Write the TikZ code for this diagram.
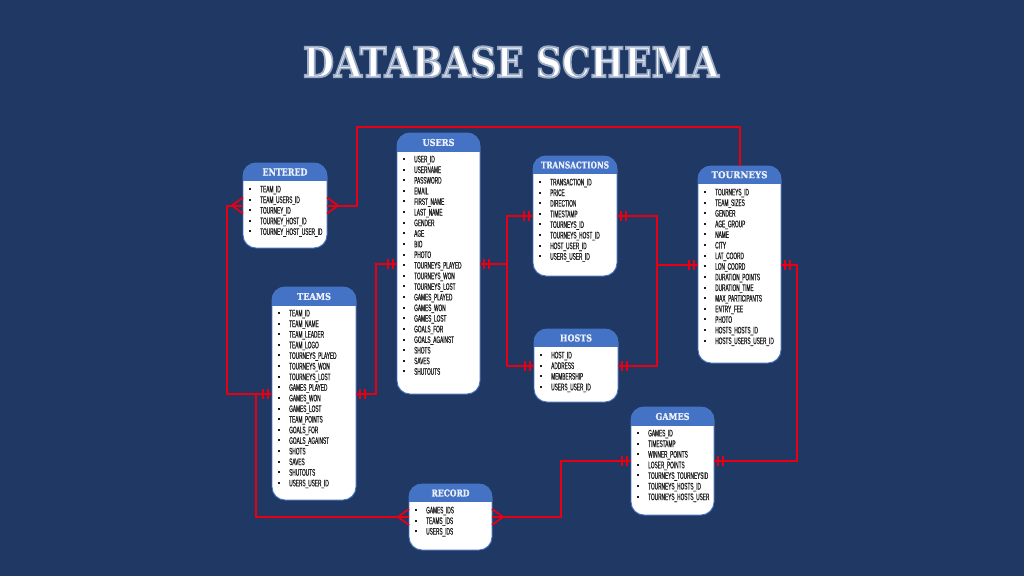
\documentclass[tikz,border=0pt]{standalone}
\usepackage{fontspec}
\usetikzlibrary{decorations.markings}
\newfontfamily\itmfont[FakeStretch=0.5,FakeBold=0.6]{Liberation Sans}
\newfontfamily\hdrfont{DejaVu Serif}
\newfontfamily\hdrfontB[FakeBold=1.2]{DejaVu Serif}
\definecolor{bg}{RGB}{31,56,100}
\definecolor{hdr}{RGB}{68,114,196}
\definecolor{conncol}{RGB}{232,0,18}
\definecolor{itm}{RGB}{30,30,30}
\definecolor{hdrtxt}{RGB}{235,240,250}
\newcommand{\hdrtext}[2]{\resizebox{#1pt}{7pt}{\hdrfontB\bfseries #2}}
\newcommand{\entbox}[8]{%
  \node[box, minimum width=#4pt, minimum height=#5pt] (#1) at (#2,#3) {};
  \begin{scope}
    \clip[rounded corners=13pt] (#1.north west) rectangle (#1.south east);
    \fill[hdr] (#1.north west) rectangle ([yshift={-#6pt}]#1.north east);
  \end{scope}
  \draw[boxline] (#1.north west) rectangle (#1.south east);
  \node[hdrlabel] (#1-title) at ([yshift={-#6pt/2}]#1.north) {\hdrtext{#7}{#8}};
}
\newcommand{\entitems}[4]{%
  \foreach \nm [count=\i] in {#4} {
    \node[itemlbl] (#1-\i) at (#2+6, #3+3.4+10.62*\i-10.62) {\makebox[11pt][l]{\rule[2.4pt]{2pt}{2pt}}\nm};
  }
}
\tikzset{
  box/.style={fill=white, draw=none, rounded corners=13pt, inner sep=0pt, outer sep=0pt, anchor=north west},
  boxline/.style={draw=hdr, line width=0.9pt, rounded corners=13pt},
  hdrlabel/.style={inner sep=0pt, text=hdrtxt},
  itemlbl/.style={inner sep=0pt, anchor=base west, text=itm, font=\itmfont\fontsize{9.5}{10}\selectfont},
  conn/.style={draw=conncol, line width=2pt},
  crowS/.style={postaction={decorate,decoration={markings,mark=at position 0 with {\draw[conncol,line width=1.8pt] (0pt,8pt) -- (11pt,0pt) -- (0pt,-8pt);}}}},
  crowE/.style={postaction={decorate,decoration={markings,mark=at position 1 with {\draw[conncol,line width=1.8pt] (0pt,8pt) -- (-11pt,0pt) -- (0pt,-8pt);}}}},
  oneS/.style={postaction={decorate,decoration={markings,mark=at position 0 with {\draw[conncol,line width=1.6pt] (4pt,-5pt) -- (4pt,5pt) (9pt,-5pt) -- (9pt,5pt);}}}},
  oneE/.style={postaction={decorate,decoration={markings,mark=at position 1 with {\draw[conncol,line width=1.6pt] (-4pt,-5pt) -- (-4pt,5pt) (-9pt,-5pt) -- (-9pt,5pt);}}}},
}
\begin{document}
\begin{tikzpicture}[x=1pt,y=-1pt]
\fill[bg] (0,0) rectangle (1024,576);
\useasboundingbox (0,0) rectangle (1024,576);
% title
\node[inner sep=0pt] (title) at (511,62) {\resizebox{416pt}{31pt}{\color{white}\special{pdf:literal direct 0.62 0.68 0.78 RG 0.45 w 2 Tr}\hdrfont\bfseries DATABASE SCHEMA\special{pdf:literal direct 0 Tr}}};
% entities
\entbox{entered}{243}{163}{84}{85}{18}{45}{ENTERED}
\entitems{entered}{243}{189}{TEAM\_ID, TEAM\_USERS\_ID, TOURNEY\_ID, TOURNEY\_HOST\_ID, TOURNEY\_HOST\_USER\_ID}
\entbox{users}{397}{133}{83}{261}{19}{32}{USERS}
\entitems{users}{397}{159}{USER\_ID, USERNAME, PASSWORD, EMAIL, FIRST\_NAME, LAST\_NAME, GENDER, AGE, BIO, PHOTO, TOURNEYS\_PLAYED, TOURNEYS\_WON, TOURNEYS\_LOST, GAMES\_PLAYED, GAMES\_WON, GAMES\_LOST, GOALS\_FOR, GOALS\_AGAINST, SHOTS, SAVES, SHUTOUTS}
\entbox{transactions}{533}{156}{84}{120}{18}{68}{TRANSACTIONS}
\entitems{transactions}{533}{182}{TRANSACTION\_ID, PRICE, DIRECTION, TIMESTAMP, TOURNEYS\_ID, TOURNEYS\_HOST\_ID, HOST\_USER\_ID, USERS\_USER\_ID}
\entbox{tourneys}{698}{166}{83}{197}{17.5}{56}{TOURNEYS}
\entitems{tourneys}{698}{192}{TOURNEYS\_ID, TEAM\_SIZES, GENDER, AGE\_GROUP, NAME, CITY, LAT\_COORD, LON\_COORD, DURATION\_POINTS, DURATION\_TIME, MAX\_PARTICIPANTS, ENTRY\_FEE, PHOTO, HOSTS\_HOSTS\_ID, HOSTS\_USERS\_USER\_ID}
\entbox{hosts}{534}{329}{84}{73}{18}{32}{HOSTS}
\entitems{hosts}{534}{355}{HOST\_ID, ADDRESS, MEMBERSHIP, USERS\_USER\_ID}
\entbox{teams}{272}{287}{84}{213}{19}{34}{TEAMS}
\entitems{teams}{272}{313}{TEAM\_ID, TEAM\_NAME, TEAM\_LEADER, TEAM\_LOGO, TOURNEYS\_PLAYED, TOURNEYS\_WON, TOURNEYS\_LOST, GAMES\_PLAYED, GAMES\_WON, GAMES\_LOST, TEAM\_POINTS, GOALS\_FOR, GOALS\_AGAINST, SHOTS, SAVES, SHUTOUTS, USERS\_USER\_ID}
\entbox{games}{631}{407}{83}{108}{19}{34}{GAMES}
\entitems{games}{631}{433}{GAMES\_ID, TIMESTAMP, WINNER\_POINTS, LOSER\_POINTS, TOURNEYS\_TOURNEYSID, TOURNEYS\_HOSTS\_ID, TOURNEYS\_HOSTS\_USER}
\entbox{record}{409}{484}{83}{66}{18}{38}{RECORD}
\entitems{record}{409}{510}{GAMES\_IDS, TEAMS\_IDS, USERS\_IDS}
% connectors
\draw[conn,crowS] (entered.east) -| (357,127) -| (tourneys.north);
\draw[conn,crowS,oneE] (entered.west) -| (227,393.5) -- (teams.west);
\draw[conn,crowS] (record.west) -| (256,393.5);
\draw[conn,oneS,oneE] (teams.east) -- ++(20,0) |- (users.west);
\draw[conn,oneS,oneE] (users.east) -- ++(27,0) |- (transactions.west);
\draw[conn,oneS,oneE] (users.east) -- ++(27,0) |- (hosts.west);
\draw[conn,oneS,oneE] (transactions.east) -- ++(40,0) |- (tourneys.west);
\draw[conn,oneS,oneE] (hosts.east) -- ++(39,0) |- (tourneys.west);
\draw[conn,oneS,oneE] (tourneys.east) -- ++(16,0) |- (games.east);
\draw[conn,oneS,crowE] (games.west) -- ++(-70,0) |- (record.east);
\end{tikzpicture}
\end{document}
